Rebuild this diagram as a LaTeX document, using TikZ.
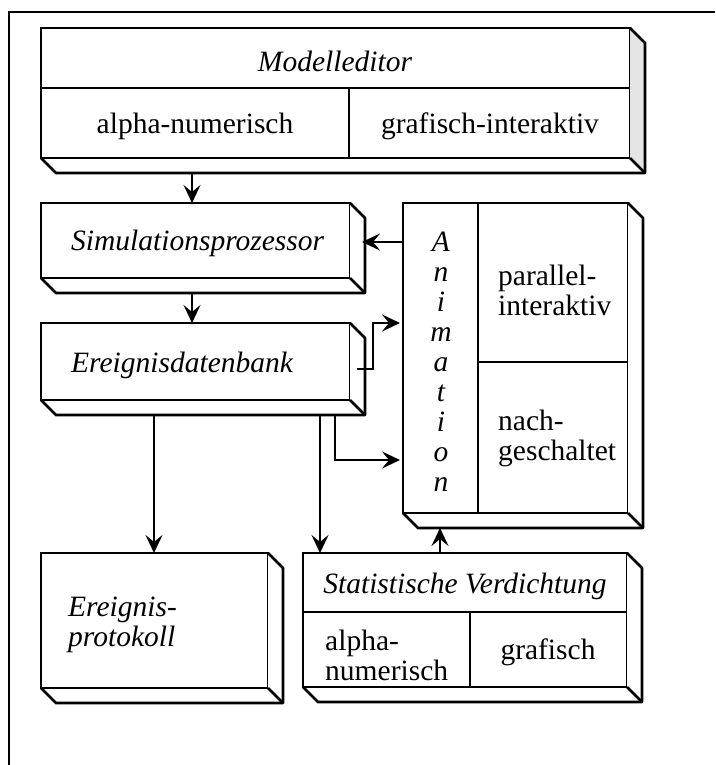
\documentclass[tikz,border=0pt]{standalone}
\usepackage{fontspec}
\setmainfont{Liberation Serif}
\usetikzlibrary{arrows.meta,calc}
\begin{document}
\begin{tikzpicture}[x=1pt,y=-1pt,
  box/.style={draw, line width=2.8pt, rectangle, inner sep=0pt, outer sep=0pt, anchor=north west},
  rule/.style={line width=2.6pt},
  flow/.style={line width=2.6pt, -{Stealth[length=18pt,width=17pt,inset=7pt]}},
  lbl/.style={inner sep=0pt, align=center, font=\fontsize{29.5}{30}\selectfont},
  ilbl/.style={inner sep=0pt, align=left, font=\fontsize{29.5}{30}\selectfont\itshape},
]
% extruded slab below and to the right of a front face
\newcommand\slabfor[2][white]{%
  \fill[#1] (#2.north east) -- ++(15pt,-15pt) -- ($(#2.south east)+(15pt,-15pt)$) -- (#2.south east) -- cycle;
  \draw[line width=2.8pt, line join=round]
    (#2.north east) -- ++(15pt,-15pt) -- ($(#2.south east)+(15pt,-15pt)$)
    -- ($(#2.south west)+(15pt,-15pt)$) -- (#2.south west);
  \draw[line width=2.6pt] (#2.south east) -- ++(15pt,-15pt);}

\useasboundingbox (0,0) rectangle (715,765);
\fill[white] (0,0) rectangle (715,765);

% outer frame
\draw[line width=1.5pt] (9,765) -- (9,12) -- (715,12);

% Modelleditor
\node[box, minimum width=589pt, minimum height=130pt] (me) at (41,28) {};
\slabfor[black!10]{me}
\draw[rule] (41,88) -- (630,88);
\draw[rule] (349,88) -- (349,158);
\node[ilbl] (meT) at (335,61) {Modelleditor};
\node[lbl] (meA) at (195,126) {alpha-numerisch};
\node[lbl] (meG) at (490,126) {grafisch-interaktiv};

% Simulationsprozessor
\node[box, minimum width=309pt, minimum height=75pt] (sim) at (41,203) {};
\slabfor{sim}
\node[ilbl, anchor=west] (simT) at (71,243) {Simulationsprozessor};

% Ereignisdatenbank
\node[box, minimum width=309pt, minimum height=77pt] (db) at (41,323) {};
\slabfor{db}
\node[ilbl, anchor=west] (dbT) at (71,365) {Ereignisdatenbank};

% Animation
\node[box, minimum width=225pt, minimum height=310pt] (anim) at (403,203) {};
\slabfor{anim}
\draw[rule] (478,203) -- (478,513);
\draw[rule] (478,362) -- (628,362);
\node[inner sep=0pt, align=center, font=\fontsize{29.5}{30}\selectfont\itshape] (animT) at (441,362)
  {A\\n\\i\\m\\a\\t\\i\\o\\n};
\node[lbl, align=left, anchor=west] (animP) at (498,290) {parallel-\\interaktiv};
\node[lbl, align=left, anchor=west] (animN) at (498,438) {nach-\\geschaltet};

% Ereignisprotokoll
\node[box, minimum width=227pt, minimum height=135pt] (ep) at (41,553) {};
\slabfor{ep}
\node[ilbl, anchor=west] (epT) at (68,625) {Ereignis-\\protokoll};

% Statistische Verdichtung
\node[box, minimum width=324pt, minimum height=134pt] (sv) at (303,553) {};
\slabfor{sv}
\draw[rule] (303,612) -- (627,612);
\draw[rule] (470,612) -- (470,687);
\node[ilbl, align=center] (svT) at (465,586) {Statistische Verdichtung};
\node[lbl, align=left, anchor=west] (svA) at (325,655) {alpha-\\numerisch};
\node[lbl] (svG) at (548,652) {grafisch};

% connectors
\draw[flow] ([xshift=151pt,yshift=-15pt]me.south west) -- ([xshift=151pt]sim.north west);
\draw[flow] ([yshift=-39pt]anim.north west) -- ([xshift=12pt,yshift=-39pt]sim.north east);
\draw[flow] ([xshift=151pt,yshift=-15pt]sim.south west) -- ([xshift=151pt]db.north west);
\draw[flow] ([xshift=7pt,yshift=-46pt]db.north east) -- ++(16pt,0pt) |- ([xshift=-3pt,yshift=-120pt]anim.north west);
\draw[flow] ([xshift=294pt,yshift=-15pt]db.south west) |- ([xshift=-3pt,yshift=-257pt]anim.north west);
\draw[flow] ([xshift=113pt,yshift=-15pt]db.south west) -- ([xshift=113pt]ep.north west);
\draw[flow] ([xshift=279pt,yshift=-15pt]db.south west) -- ([xshift=17pt]sv.north west);
\draw[flow] ([xshift=137pt]sv.north west) -- ([xshift=37pt,yshift=-15pt]anim.south west);
\end{tikzpicture}
\end{document}
